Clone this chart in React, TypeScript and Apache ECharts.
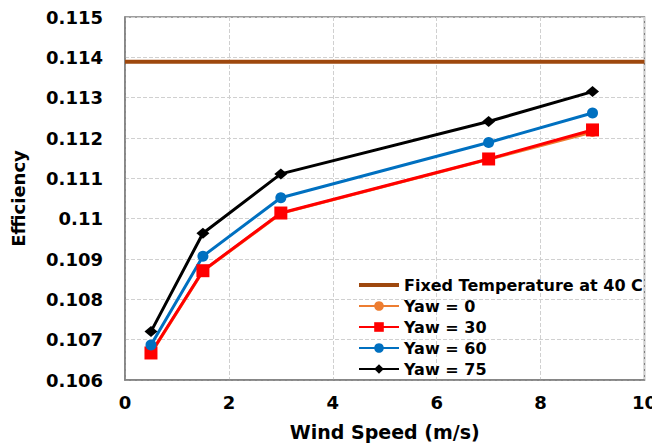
import React, { useEffect, useRef } from "react";
import * as echarts from "echarts";

const windSpeed = [0.5, 1.5, 3, 7, 9];
const fixedTemp = 0.11389;
const yaw0 = [0.10666, 0.1087, 0.11013, 0.11147, 0.11215];
const yaw30 = [0.10667, 0.10871, 0.11014, 0.11148, 0.1122];
const yaw60 = [0.10687, 0.10907, 0.11052, 0.11189, 0.11262];
const yaw75 = [0.1072, 0.10964, 0.11111, 0.11241, 0.11315];
const xRange = [0, 10];

const FONT = "DejaVu Sans";

function pairs(ys: number[]) {
  return windSpeed.map((x, i) => [x, ys[i]]);
}

export default function App() {
  const ref = useRef<HTMLDivElement>(null);
  useEffect(() => {
    if (!ref.current) return;
    const chart = echarts.init(ref.current, undefined, { renderer: "svg" });
    chart.setOption({
      animation: false,
      backgroundColor: "#ffffff",
      grid: {
        left: 125,
        right: 12,
        top: 17,
        bottom: 68,
        show: true,
        borderColor: "#7f7f7f",
        borderWidth: 1.5,
      },
      legend: {
        orient: "vertical",
        left: 353,
        top: 272,
        itemWidth: 40,
        itemHeight: 12,
        itemGap: 5,
        textStyle: { fontFamily: FONT, fontWeight: "bold", fontSize: 16, color: "#000" },
        data: [
          { name: "Fixed Temperature at 40 C", icon: "path://M0,0L40,0L40,4L0,4Z" },
          "Yaw = 0",
          "Yaw = 30",
          "Yaw = 60",
          "Yaw = 75",
        ],
      },
      xAxis: {
        type: "value",
        min: 0,
        max: 10,
        interval: 2,
        name: "Wind Speed (m/s)",
        nameLocation: "middle",
        nameGap: 42,
        nameTextStyle: { fontFamily: FONT, fontWeight: "bold", fontSize: 19, color: "#000" },
        axisLine: { show: true, lineStyle: { color: "#7f7f7f", width: 1.5 } },
        axisTick: { show: false },
        axisLabel: { fontFamily: FONT, fontWeight: "bold", fontSize: 18, color: "#000", margin: 13 },
        splitLine: { show: true, lineStyle: { color: "#d0d0d0", type: "dashed", width: 1 } },
      },
      yAxis: {
        type: "value",
        min: 0.106,
        max: 0.115,
        interval: 0.001,
        name: "Efficiency",
        nameLocation: "middle",
        nameRotate: 90,
        nameGap: 98,
        nameTextStyle: { fontFamily: FONT, fontWeight: "bold", fontSize: 18, color: "#000" },
        axisLine: { show: true, lineStyle: { color: "#7f7f7f", width: 1.5 } },
        axisTick: { show: false },
        axisLabel: {
          fontFamily: FONT,
          fontWeight: "bold",
          fontSize: 18,
          color: "#000",
          margin: 22,
          formatter: (v: number) => String(Number(v.toFixed(3))),
        },
        splitLine: { show: true, lineStyle: { color: "#d0d0d0", type: "dashed", width: 1 } },
      },
      series: [
        {
          name: "Fixed Temperature at 40 C",
          type: "line",
          data: xRange.map((x) => [x, fixedTemp]),
          showSymbol: false,
          symbol: "none",
          lineStyle: { color: "#9e480e", width: 4 },
          itemStyle: { color: "#9e480e" },
        },
        {
          name: "Yaw = 0",
          type: "line",
          data: pairs(yaw0),
          symbol: "circle",
          symbolSize: 10,
          lineStyle: { color: "#ed7d31", width: 3 },
          itemStyle: { color: "#ed7d31" },
        },
        {
          name: "Yaw = 30",
          type: "line",
          data: pairs(yaw30),
          symbol: "rect",
          symbolSize: 13,
          lineStyle: { color: "#ff0000", width: 3 },
          itemStyle: { color: "#ff0000" },
        },
        {
          name: "Yaw = 60",
          type: "line",
          data: pairs(yaw60),
          symbol: "circle",
          symbolSize: 11,
          lineStyle: { color: "#0070c0", width: 3 },
          itemStyle: { color: "#0070c0" },
        },
        {
          name: "Yaw = 75",
          type: "line",
          data: pairs(yaw75),
          symbol: "diamond",
          symbolSize: [13, 11],
          lineStyle: { color: "#000000", width: 3 },
          itemStyle: { color: "#000000" },
        },
      ],
    });
    return () => chart.dispose();
  }, []);
  return <div ref={ref} style={{ width: 660, height: 448, marginLeft: -8, marginTop: -8 }} />;
}
